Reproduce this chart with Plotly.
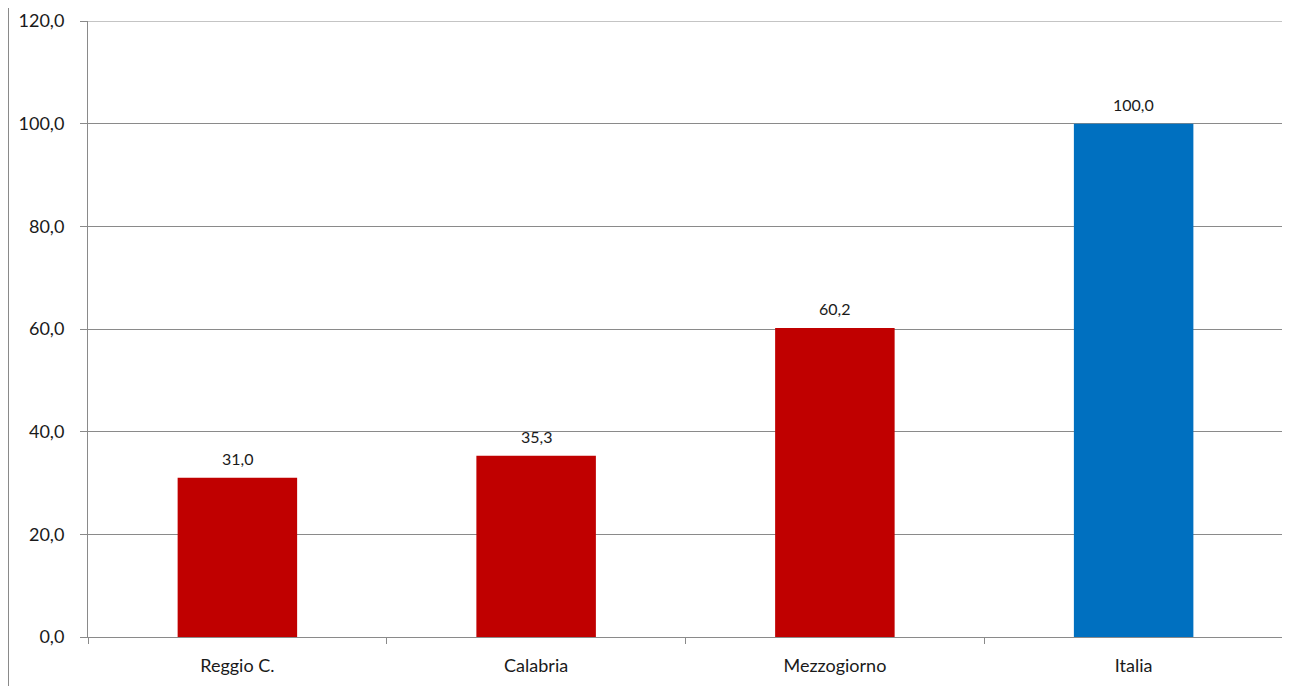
import plotly.graph_objects as go

categories = ["Reggio C.", "Calabria", "Mezzogiorno", "Italia"]
values = [31.0, 35.3, 60.2, 100.0]
bar_colors = ["#C00000", "#C00000", "#C00000", "#0070C0"]
y_ticks = [0, 20, 40, 60, 80, 100, 120]
y_tick_labels = ["0,0", "20,0", "40,0", "60,0", "80,0", "100,0", "120,0"]

def fmt(v):
    return f"{v:.1f}".replace(".", ",")

FONT = "Lato"
GRID = "#8a8a8a"

# page body adds an 8px offset; figure is sized so the plot lands where the reference has it
W, H = 1282, 678
L, R, T, B = 80, 7, 13, 49
PW, PH = W - L - R, H - T - B

fig = go.Figure()
fig.add_trace(go.Bar(
    x=categories, y=values, width=0.4,
    marker=dict(color=bar_colors, line=dict(width=0)),
    showlegend=False, hoverinfo="skip",
))

for c, v in zip(categories, values):
    fig.add_annotation(x=c, y=v, text=fmt(v), showarrow=False,
                       yanchor="bottom", yshift=8,
                       font=dict(family=FONT, size=16, color="#1a1a1a"))

fig.update_layout(
    width=W, height=H,
    margin=dict(l=L, r=R, t=T, b=B, autoexpand=False),
    paper_bgcolor="white", plot_bgcolor="white",
    font=dict(family=FONT, color="#1a1a1a"),
    bargap=0.6,
)
fig.update_xaxes(
    type="category", showgrid=False, showline=True, linecolor=GRID, linewidth=1,
    ticks="outside", tickson="boundaries", ticklen=6, tickcolor=GRID,
    tickfont=dict(family=FONT, size=18, color="#1a1a1a"), ticklabelstandoff=12,
    automargin=False,
)
fig.update_yaxes(
    range=[0, 120], tickvals=y_ticks, ticktext=y_tick_labels,
    showgrid=True, gridcolor=GRID, gridwidth=1,
    showline=True, linecolor=GRID, linewidth=1,
    ticks="outside", ticklen=7, tickcolor=GRID,
    tickfont=dict(family=FONT, size=18, color="#1a1a1a"), ticklabelstandoff=12,
    zeroline=False, automargin=False,
)
# top gridline at the range edge
fig.add_shape(type="line", xref="paper", yref="y", x0=0, x1=1, y0=y_ticks[-1], y1=y_ticks[-1],
              line=dict(color=GRID, width=1))
# outer left border line
fig.add_shape(type="line", xref="paper", yref="paper",
              x0=(0.5 - L) / PW, x1=(0.5 - L) / PW, y0=-B / PH, y1=(PH + T) / PH,
              line=dict(color=GRID, width=1))

fig.write_html("out.html")
